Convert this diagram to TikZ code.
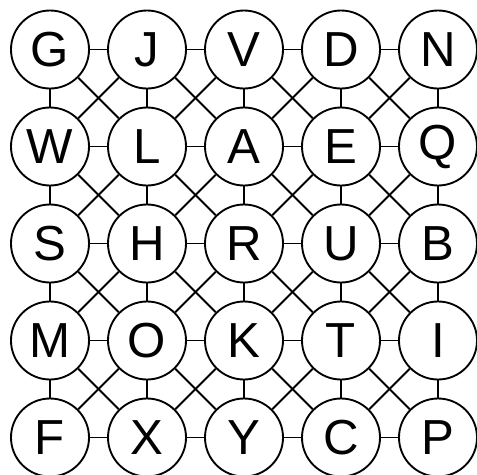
\documentclass[tikz,border=0pt]{standalone}
\usepackage{fontspec}
\setmainfont{Liberation Sans}
\usetikzlibrary{positioning}
\tikzset{
  lcell/.style={draw=black, circle, line width=1.6pt, minimum size=2.34cm, inner sep=0pt,
    fill=white, font=\fontsize{42}{42}\selectfont},
  link/.style={draw=black, line width=1.6pt},
}
\begin{document}
\begin{tikzpicture}[x=0.03cm, y=-0.03cm]
  \useasboundingbox (0,0) rectangle (477,474);
  % letter cells
  \foreach \rowlist [count=\ri from 0] in {{G,J,V,D,N},{W,L,A,E,Q},{S,H,R,U,B},{M,O,K,T,I},{F,X,Y,C,P}} {
    \foreach \ltr [count=\ci from 0] in \rowlist {
      \node[lcell] (n\ri\ci) at ({50+97*\ci},{49.5+97*\ri}) {\ltr};
    }
  }
  % horizontal and vertical links
  \foreach \p in {0,...,4} {
    \foreach \q [evaluate=\q as \qn using int(\q+1)] in {0,...,3} {
      \draw[link] (n\p\q) -- (n\p\qn);
      \draw[link] (n\q\p) -- (n\qn\p);
    }
  }
  % diagonal links
  \foreach \p [evaluate=\p as \pn using int(\p+1)] in {0,...,3} {
    \foreach \q [evaluate=\q as \qn using int(\q+1)] in {0,...,3} {
      \draw[link] (n\p\q) -- (n\pn\qn);
      \draw[link] (n\p\qn) -- (n\pn\q);
    }
  }
\end{tikzpicture}
\end{document}
